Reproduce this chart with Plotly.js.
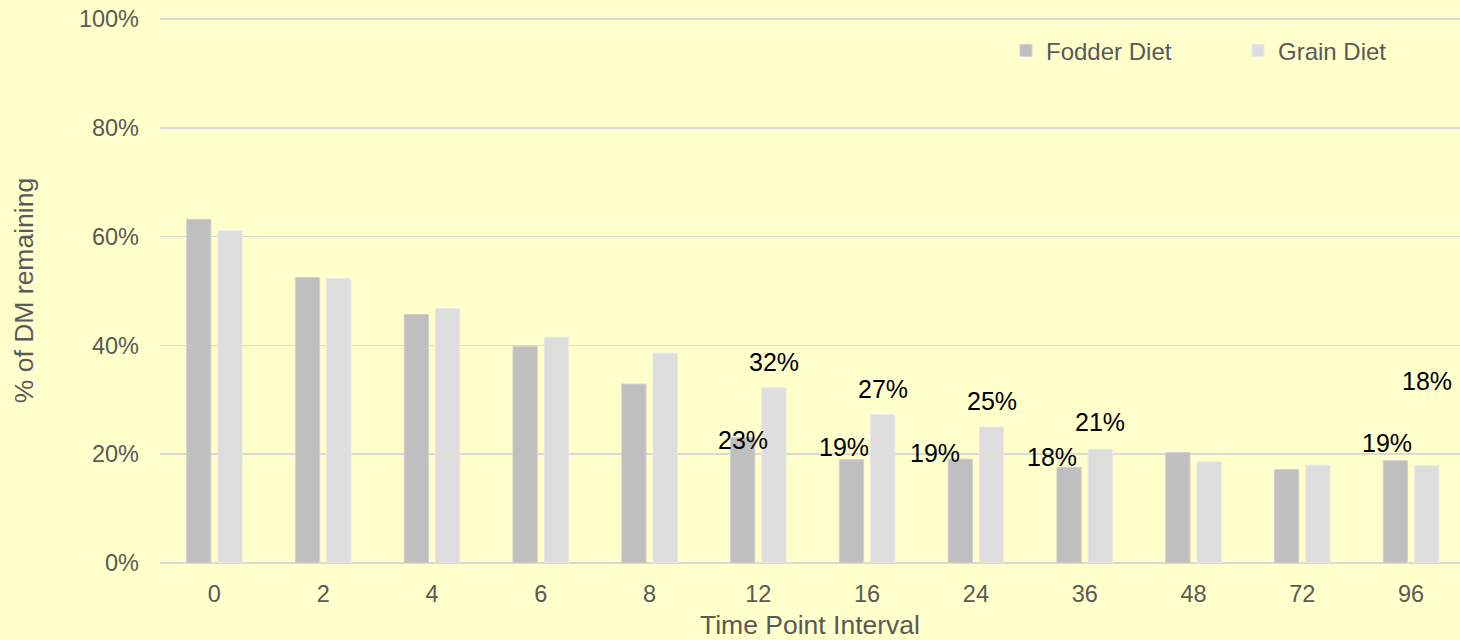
<!DOCTYPE html>
<html>
<head>
<meta charset="utf-8">
<script src="https://cdn.plot.ly/plotly-3.0.1.min.js"></script>
<style>
  html, body { margin: 0; padding: 0; background: #FFFFCC; }
  #chart { width: 1460px; height: 640px; }
</style>
</head>
<body>
<div id="chart"></div>
<script>
// ---- Data ----
const categories = ['0', '2', '4', '6', '8', '12', '16', '24', '36', '48', '72', '96'];
const fodderValues = [63.2, 52.5, 45.7, 39.8, 32.9, 23.1, 19.0, 19.1, 17.6, 20.3, 17.2, 18.8];
const grainValues  = [61.1, 52.3, 46.8, 41.5, 38.6, 32.2, 27.3, 25.0, 20.9, 18.6, 18.0, 17.9];
const fodderName = 'Fodder Diet';
const grainName = 'Grain Diet';
// categories whose values carry a data label
const labelledFodder = ['12', '16', '24', '36', '96'];
const labelledGrain  = ['12', '16', '24', '36', '96'];

// ---- Label placement (style, px offsets from bar top centre) ----
const fodderLabelOffsets = { '12': [0, -3], '16': [-8, 13], '24': [-25, 6], '36': [-17, 10], '96': [-8, 18] };
const grainLabelOffsets  = { '12': [0, 26], '16': [0, 26], '24': [0, 26], '36': [0, 27], '96': [0, 85] };

const barSlotHalf = 15.6; // half of each bar's slot within a group, px
const FONT = 'Liberation Sans, Arial, sans-serif';

const fmt = v => Math.round(v) + '%';
const annotations = [];
function addLabels(list, values, offsets, sign) {
  list.forEach(c => {
    const i = categories.indexOf(c);
    const o = offsets[c];
    annotations.push({
      x: i, y: values[i], xref: 'x', yref: 'y',
      text: fmt(values[i]), showarrow: false,
      xshift: sign * barSlotHalf + o[0], yshift: o[1],
      xanchor: 'center', yanchor: 'middle',
      font: { family: FONT, size: 25, color: '#000000' }
    });
  });
}
addLabels(labelledFodder, fodderValues, fodderLabelOffsets, -1);
addLabels(labelledGrain, grainValues, grainLabelOffsets, 1);

const traces = [
  {
    type: 'bar', name: fodderName, x: categories, y: fodderValues,
    marker: { color: '#BFBFBF', line: { color: '#D0D0D0', width: 1 } },
    legend: 'legend'
  },
  {
    type: 'bar', name: grainName, x: categories, y: grainValues,
    marker: { color: '#DDDDDD', line: { color: '#E8E8E8', width: 1 } },
    legend: 'legend2'
  }
];

const tickFont = { family: FONT, size: 23.5, color: '#595959' };
const legendFont = { family: FONT, size: 24, color: '#595959' };
const layout = {
  width: 1460, height: 640,
  paper_bgcolor: '#FFFFCC', plot_bgcolor: '#FFFFCC',
  margin: { l: 160, r: 0, t: 18, b: 77, autoexpand: false },
  barmode: 'group', bargap: 0.425, bargroupgap: 0.224,
  font: { family: FONT, color: '#595959' },
  xaxis: {
    type: 'category', range: [-0.5, 11.45],
    tickfont: tickFont, ticks: '', showgrid: false,
    showline: false, zeroline: false, ticklabelstandoff: 14,
    title: { text: 'Time Point Interval', font: { family: FONT, size: 26.5, color: '#595959' }, standoff: 16 }
  },
  yaxis: {
    range: [0, 100.2], dtick: 20, ticksuffix: '%',
    tickfont: tickFont, showgrid: true, gridcolor: '#D9D9D9', gridwidth: 1.5,
    zeroline: true, zerolinecolor: '#D9D9D9', zerolinewidth: 1.5,
    showline: false, ticks: '', ticklabelstandoff: 20,
    title: { text: '% of DM remaining', font: { family: FONT, size: 26.5, color: '#595959' }, standoff: 37 }
  },
  legend: {
    orientation: 'h', xref: 'paper', x: (1006 - 160) / 1300, y: 0.94, xanchor: 'left', yanchor: 'middle',
    font: legendFont, bgcolor: 'rgba(0,0,0,0)'
  },
  legend2: {
    orientation: 'h', xref: 'paper', x: (1238 - 160) / 1300, y: 0.94, xanchor: 'left', yanchor: 'middle',
    font: legendFont, bgcolor: 'rgba(0,0,0,0)'
  },
  annotations: annotations,
  showlegend: true
};

Plotly.newPlot('chart', traces, layout, { displayModeBar: false, staticPlot: true });
</script>
</body>
</html>
